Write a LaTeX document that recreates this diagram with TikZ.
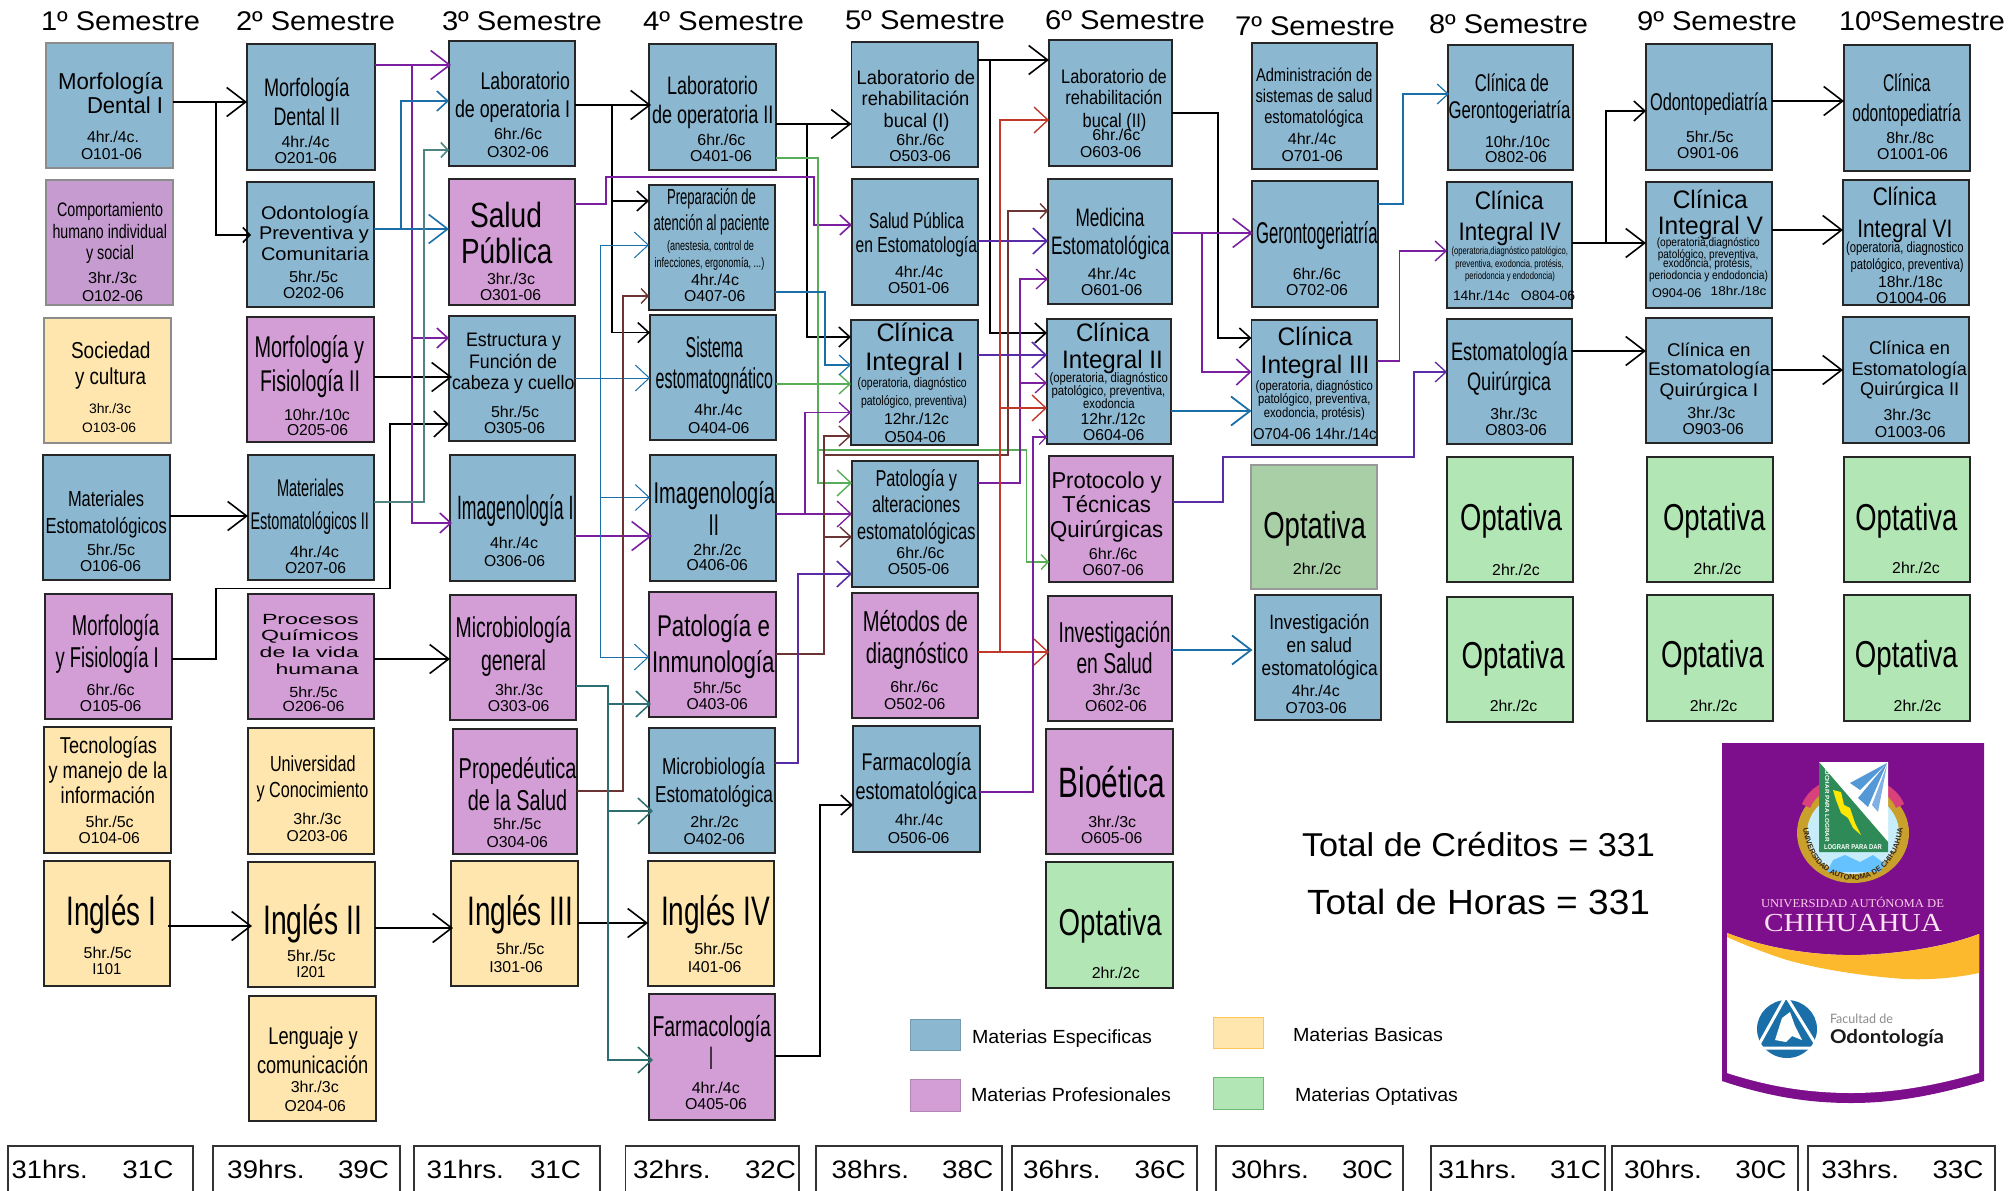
\documentclass[tikz,border=0pt]{standalone}
\usepackage{fontspec}
\usepackage{graphicx}
\setmainfont{Liberation Sans}
\newfontfamily\serifF{Liberation Serif}
\newfontfamily\latoF{Lato}
\usetikzlibrary{arrows.meta,decorations.text}
\definecolor{cB}{HTML}{8CB7D0}
\definecolor{cP}{HTML}{D39DD6}
\definecolor{cPd}{HTML}{C59BD0}
\definecolor{cY}{HTML}{FEE6AE}
\definecolor{cG}{HTML}{B3E6B5}
\definecolor{cGd}{HTML}{A9CFA6}
\definecolor{wirP}{HTML}{7A1FA0}
\definecolor{wirB}{HTML}{1B6FA8}
\definecolor{wirT}{HTML}{4F8483}
\definecolor{wirD}{HTML}{2F6E70}
\definecolor{wirR}{HTML}{6B3535}
\definecolor{wirG}{HTML}{58AE58}
\definecolor{wirI}{HTML}{5A2BA6}
\definecolor{wirO}{HTML}{C0392B}
\definecolor{logoP}{HTML}{7D0F8C}
\definecolor{logoO}{HTML}{FDB92E}
\tikzset{
  cbox/.style={draw=black!85,line width=1.3pt,inner sep=0pt,outer sep=0pt,anchor=north west},
  fB/.style={fill=cB},fP/.style={fill=cP},fPd/.style={fill=cPd,draw=black!45},
  fY/.style={fill=cY},fG/.style={fill=cG},fGd/.style={fill=cGd,draw=black!40},
  fW/.style={fill=white},graybd/.style={draw=black!45},
  wK/.style={draw=black,line width=1.6pt},
  wP/.style={draw=wirP,line width=1.6pt},
  wB/.style={draw=wirB,line width=1.6pt},
  wT/.style={draw=wirT,line width=1.6pt},
  wD/.style={draw=wirD,line width=1.5pt},
  wR/.style={draw=wirR,line width=1.4pt},
  wG/.style={draw=wirG,line width=1.4pt},
  wI/.style={draw=wirI,line width=1.6pt},
  wO/.style={draw=wirO,line width=1.4pt},
  tB/.style={-{Straight Barb[length=19pt,width=29pt]}},
  tM/.style={-{Straight Barb[length=14pt,width=26pt]}},
  tS/.style={-{Straight Barb[length=11pt,width=20pt]}},
  tX/.style={-{Straight Barb[length=7pt,width=15pt]}},
  txt/.style={inner sep=0pt,outer sep=0pt,anchor=base west}
}
\newcommand\Ln[5]{\vbox to 0pt{\offinterlineskip\kern\dimexpr #3pt-\CurY pt\relax
  \ifdim #4pt>22.5pt\def\VF{1.25}\else\ifdim #4pt>15.5pt\def\VF{1.15}\else\def\VF{1.05}\fi\fi
  \hbox to 0pt{\kern\dimexpr #1pt-\CurX pt\relax\smash{\resizebox{\dimexpr #2pt-#1pt\relax}{\VF\height}{\fontsize{#4}{#4}\selectfont #5}}\hss}\vss}}
\newcommand\Cv[8][]{\def\CurX{#3}\def\CurY{#4}%
  \node[cbox,#7,#1] (#2) at (#3,#4) {\vbox to \dimexpr #6pt-#4pt\relax{\offinterlineskip
    \hrule height 0pt width \dimexpr #5pt-#3pt\relax #8\vss}};}
\newcommand\Tx[7][black]{\node[txt,text=#1] (#2) at (#3,#5) {\resizebox{\dimexpr #4pt-#3pt\relax}{\height}{\fontsize{#6}{#6}\selectfont #7}};}
\begin{document}
\begin{tikzpicture}[x=1pt,y=-1pt]
\useasboundingbox (0,0) rectangle (2011,1191);
% headings
\Tx{h1}{41}{200}{30}{27}{1º Semestre}
\Tx{h2}{236}{395}{30}{27}{2º Semestre}
\Tx{h3}{442}{602}{30}{27}{3º Semestre}
\Tx{h4}{643}{804}{30}{27}{4º Semestre}
\Tx{h5}{845}{1005}{29}{27}{5º Semestre}
\Tx{h6}{1045}{1205}{29}{27}{6º Semestre}
\Tx{h7}{1235}{1395}{35.6}{27}{7º Semestre}
\Tx{h8}{1429}{1588}{33.7}{27}{8º Semestre}
\Tx{h9}{1637}{1797}{30.6}{27}{9º Semestre}
\Tx{h10}{1839}{2005}{30.6}{27}{10ºSemestre}
% column 1
\Cv[graybd]{c101}{46}{43}{173}{168}{fB}{\Ln{58}{163}{89}{20}{Morfología}\Ln{87}{163}{113}{20}{Dental I}\Ln{87}{139}{142}{15}{4hr./4c.}\Ln{81}{142}{159.6}{15}{O101-06}}
\Cv{c102}{46}{180}{173}{305}{fPd}{\Ln{57}{163}{216}{17}{Comportamiento}\Ln{52.5}{167}{238}{17}{humano individual}\Ln{86}{134}{259}{17}{y social}\Ln{88}{137}{283.5}{15}{3hr./3c}\Ln{82}{143}{301.5}{15}{O102-06}}
\Cv[graybd]{c103}{44}{318}{171}{443}{fY}{\Ln{71}{150.5}{358}{20}{Sociedad}\Ln{75}{146}{384}{20}{y cultura}\Ln{89}{131}{413.7}{13}{3hr./3c}\Ln{82}{136}{432.5}{13}{O103-06}}
\Cv{c106}{43}{455}{170}{580}{fB}{\Ln{68}{144}{506}{19}{Materiales}\Ln{45.5}{167}{533}{19}{Estomatológicos}\Ln{87}{135}{555.7}{15}{5hr./5c}\Ln{80}{141}{571}{15}{O106-06}}
\Cv{c105}{45}{594}{172}{719}{fP}{\Ln{72}{159}{635}{23}{Morfología}\Ln{55.6}{158.7}{667.7}{23}{y Fisiología I}\Ln{86.7}{134.7}{695}{15}{6hr./6c}\Ln{80}{141.3}{711.3}{15}{O105-06}}
\Cv{c104}{44}{727}{171}{853}{fY}{\Ln{60}{157}{753.8}{20}{Tecnologías}\Ln{48.5}{167.3}{778.7}{20}{y manejo de la}\Ln{60.7}{155}{803.5}{20}{información}\Ln{85.7}{133.7}{827.7}{15}{5hr./5c}\Ln{78.6}{139.8}{843.3}{15}{O104-06}}
\Cv{i101}{44}{861}{170}{986}{fY}{\Ln{66.3}{156}{925.6}{33}{Inglés I}\Ln{83.7}{131.6}{958}{15}{5hr./5c}\Ln{92.3}{121.4}{974.6}{15}{I101}}
% column 2
\Cv{c201}{247}{44}{375}{170}{fB}{\Ln{264}{349.5}{96.4}{22}{Morfología}\Ln{273.5}{340}{125}{22}{Dental II}\Ln{281.6}{329.6}{147.7}{15}{4hr./4c}\Ln{274.5}{337}{163.4}{15}{O201-06}}
\Cv{c202}{247}{182}{374}{307}{fB}{\Ln{261}{369}{219}{16}{Odontología}\Ln{259}{369}{239}{16}{Preventiva y}\Ln{261}{369}{260}{16}{Comunitaria}\Ln{289}{338}{282.4}{15}{5hr./5c}\Ln{283}{344}{298.5}{15}{O202-06}}
\Cv{c205}{247}{317}{374}{442}{fP}{\Ln{254.6}{364}{357.8}{24}{Morfología y}\Ln{260}{360}{391}{24}{Fisiología II}\Ln{284}{350}{420}{15}{10hr./10c}\Ln{287}{348}{435.5}{15}{O205-06}}
\Cv{c207}{248}{455}{374}{580}{fB}{\Ln{277}{344}{496}{21}{Materiales}\Ln{250.5}{369}{529.6}{21}{Estomatológicos II}\Ln{290}{339}{557.6}{15}{4hr./4c}\Ln{285}{346}{573}{15}{O207-06}}
\Cv{c206}{248}{594}{374}{719}{fP}{\Ln{262}{358.7}{624.4}{14}{Procesos}\Ln{261}{358.7}{640}{14}{Químicos}\Ln{259.7}{358.7}{657}{14}{de la vida}\Ln{275.5}{358.7}{674}{14}{humana}\Ln{289.3}{337.8}{697}{14}{5hr./5c}\Ln{282.7}{344.4}{711.3}{14}{O206-06}}
\Cv{c203}{248}{728}{374}{854}{fY}{\Ln{270}{355.6}{771.8}{19}{Universidad}\Ln{256.6}{368.4}{797.8}{19}{y Conocimiento}\Ln{293.4}{341.3}{824}{15}{3hr./3c}\Ln{286.7}{348}{841}{15}{O203-06}}
\Cv{i201}{248}{862}{375}{987}{fY}{\Ln{263.3}{362.2}{934.4}{33}{Inglés II}\Ln{287.2}{335.7}{961.2}{15}{5hr./5c}\Ln{296.4}{325.5}{977.3}{15}{I201}}
\Cv{c204}{249}{996}{376}{1121}{fY}{\Ln{268.4}{357.7}{1044.6}{21}{Lenguaje y}\Ln{257}{368.4}{1073}{21}{comunicación}\Ln{290.8}{338.8}{1092.5}{15}{3hr./3c}\Ln{284.7}{346}{1111.2}{15}{O204-06}}
% column 3
\Cv{c302}{449}{41}{575}{166}{fB}{\Ln{480.6}{570}{89.5}{21}{Laboratorio}\Ln{455}{570}{117}{21}{de operatoria I}\Ln{494}{542}{139}{15}{6hr./6c}\Ln{487}{549}{157}{15}{O302-06}}
\Cv{c301}{449}{179}{575}{305}{fP}{\Ln{470}{542}{227.7}{28}{Salud}\Ln{461}{552.5}{263.7}{28}{Pública}\Ln{487}{535}{284}{15}{3hr./3c}\Ln{480}{541}{300}{15}{O301-06}}
\Cv{c305}{449}{316}{575}{441}{fB}{\Ln{466}{561}{346}{17}{Estructura y}\Ln{469}{557}{368.5}{17}{Función de}\Ln{452}{574.5}{389}{17}{cabeza y cuello}\Ln{491}{539}{417.5}{15}{5hr./5c}\Ln{484}{545}{433}{15}{O305-06}}
\Cv{c306}{450}{455}{575}{581}{fB}{\Ln{457}{573.5}{519}{27}{Imagenología I}\Ln{490}{538}{548}{15}{4hr./4c}\Ln{484}{545}{566}{15}{O306-06}}
\Cv{c303}{450}{595}{576}{720}{fP}{\Ln{455.6}{571}{637.8}{23}{Microbiología}\Ln{481}{546}{670.7}{23}{general}\Ln{495}{543}{695}{15}{3hr./3c}\Ln{487.8}{549.5}{711.3}{15}{O303-06}}
\Cv{c304}{453}{729}{577}{854}{fP}{\Ln{458.7}{576.5}{778.7}{23}{Propedéutica}\Ln{467.9}{567.3}{810}{23}{de la Salud}\Ln{493.4}{541.3}{829}{15}{5hr./5c}\Ln{486.7}{548}{847}{15}{O304-06}}
\Cv{i301}{451}{861}{578}{986}{fY}{\Ln{467.3}{573}{925.6}{33}{Inglés III}\Ln{496.4}{544.4}{954.3}{15}{5hr./5c}\Ln{489.3}{542.9}{972.3}{15}{I301-06}}
% column 4
\Cv{c401}{649}{44}{776}{170}{fB}{\Ln{667}{758}{94.5}{22}{Laboratorio}\Ln{652}{773.5}{123}{22}{de operatoria II}\Ln{697.4}{745.4}{145.4}{15}{6hr./6c}\Ln{690}{752}{161}{15}{O401-06}}
\Cv{c407}{649}{185}{775}{310}{fB}{\Ln{667}{756}{204.7}{19}{Preparación de}\Ln{653.6}{769.4}{230.8}{19}{atención al paciente}\Ln{667}{754}{250}{13}{(anestesia, control de}\Ln{654.6}{764.3}{267}{13}{infecciones, ergonomía, ...)}\Ln{691}{739}{285.5}{15}{4hr./4c}\Ln{684}{745.4}{301.6}{15}{O407-06}}
\Cv{c404}{650}{315}{776}{440}{fB}{\Ln{685.7}{743}{357}{23}{Sistema}\Ln{655.6}{773}{388.4}{23}{estomatognático}\Ln{694.4}{742.3}{415.6}{15}{4hr./4c}\Ln{688}{749.5}{433}{15}{O404-06}}
\Cv{c406}{650}{455}{776}{581}{fB}{\Ln{653.6}{775}{503}{24}{Imagenología}\Ln{708.7}{719}{535}{24}{II}\Ln{693.4}{741.3}{555}{15}{2hr./2c}\Ln{686.7}{748}{570.6}{15}{O406-06}}
\Cv{c403}{649}{592}{776}{717}{fP}{\Ln{657}{770}{636.7}{24}{Patología e}\Ln{652}{774.5}{672.3}{24}{Inmunología}\Ln{693.4}{741.3}{693.3}{15}{5hr./5c}\Ln{686.7}{748}{709.4}{15}{O403-06}}
\Cv{c402}{649}{728}{775}{853}{fB}{\Ln{662}{765}{774.8}{20}{Microbiología}\Ln{655}{773}{802.4}{20}{Estomatológica}\Ln{690.3}{738.8}{827.3}{15}{2hr./2c}\Ln{683.7}{745}{844.5}{15}{O402-06}}
\Cv{i401}{648}{861}{774}{986}{fY}{\Ln{661}{770}{925.6}{33}{Inglés IV}\Ln{694.4}{743}{954.3}{15}{5hr./5c}\Ln{687.8}{741.3}{972.3}{15}{I401-06}}
\Cv{c405}{649}{994}{775}{1120}{fP}{\Ln{652.5}{771}{1036.6}{23}{Farmacología}\Ln{709}{713}{1069.5}{26}{I}\Ln{691.8}{739.8}{1093}{15}{4hr./4c}\Ln{685}{747}{1109}{15}{O405-06}}
% column 5
\Cv{c503}{851.5}{42}{978}{167}{fB}{\Ln{856.6}{975}{84}{17}{Laboratorio de}\Ln{861.7}{969.4}{105}{17}{rehabilitación}\Ln{883.7}{949.5}{127.4}{17}{bucal (I)}\Ln{896.4}{944.4}{145.4}{15}{6hr./6c}\Ln{889.3}{951}{161}{15}{O503-06}}
\Cv{c501}{852}{179}{978}{305}{fB}{\Ln{869}{964}{228.5}{19}{Salud Pública}\Ln{855.6}{977}{252.6}{19}{en Estomatología}\Ln{895}{943}{277.5}{15}{4hr./4c}\Ln{888}{949.5}{293.5}{15}{O501-06}}
\Cv{c504}{851}{320}{978}{445}{fB}{\Ln{876.5}{953.6}{341.7}{22}{Clínica}\Ln{865.3}{963.8}{370.5}{22}{Integral I}\Ln{857.7}{966.8}{387.7}{13}{(operatoria, diagnóstico}\Ln{861}{966.8}{405.7}{13}{patológico, preventiva)}\Ln{884}{949}{424.4}{15}{12hr./12c}\Ln{884.7}{946}{442.4}{15}{O504-06}}
\Cv{c505}{852}{461}{978}{587}{fB}{\Ln{875.5}{957}{486.8}{20}{Patología y}\Ln{872}{960.2}{512.8}{20}{alteraciones}\Ln{857}{975.5}{539.6}{20}{estomatológicas}\Ln{896.4}{944.4}{558.4}{15}{6hr./6c}\Ln{887.8}{949.5}{574}{15}{O505-06}}
\Cv{c502}{852}{593}{978}{718}{fP}{\Ln{862.8}{967.9}{631}{23}{Métodos de}\Ln{865.8}{968.4}{663.5}{23}{diagnóstico}\Ln{890.3}{938.3}{692.6}{15}{6hr./6c}\Ln{884.2}{945.4}{709.4}{15}{O502-06}}
\Cv{c506}{853}{726}{980}{852}{fB}{\Ln{861.7}{971}{770.6}{21}{Farmacología}\Ln{855.6}{977}{799}{21}{estomatológica}\Ln{895}{943}{825.4}{15}{4hr./4c}\Ln{887.8}{949.5}{843.3}{15}{O506-06}}
% column 6
\Cv{c603}{1049}{40}{1172}{166}{fB}{\Ln{1061.2}{1166.8}{83.4}{17}{Laboratorio de}\Ln{1065.3}{1162.2}{104.9}{17}{rehabilitación}\Ln{1082.7}{1146.4}{127}{17}{bucal (II)}\Ln{1092.3}{1140.3}{140}{15}{6hr./6c}\Ln{1080}{1141.3}{157.3}{15}{O603-06}}
\Cv{c601}{1048}{179}{1172}{304}{fB}{\Ln{1075.5}{1144.4}{226.6}{22}{Medicina}\Ln{1051}{1169.4}{254.5}{22}{Estomatológica}\Ln{1087.8}{1136.2}{279.4}{15}{4hr./4c}\Ln{1081}{1142.3}{295}{15}{O601-06}}
\Cv{c604}{1047}{319}{1171}{444}{fB}{\Ln{1076}{1149.5}{341.8}{22}{Clínica}\Ln{1062.2}{1162.8}{368}{22}{Integral II}\Ln{1049.5}{1167.9}{382.7}{13}{(operatoria, diagnóstico}\Ln{1051.5}{1165.3}{395.3}{13}{patológico, preventiva,}\Ln{1083.2}{1134.7}{408.3}{13}{exodoncia}\Ln{1080.6}{1145.4}{424.4}{15}{12hr./12c}\Ln{1083.2}{1144.4}{440}{15}{O604-06}}
\Cv{c607}{1049}{456}{1173}{582}{fP}{\Ln{1051.5}{1161.7}{488}{20}{Protocolo y}\Ln{1062.2}{1151}{512.8}{20}{Técnicas}\Ln{1050}{1163.3}{537.7}{20}{Quirúrgicas}\Ln{1088.8}{1137.3}{559.5}{15}{6hr./6c}\Ln{1082.7}{1143.9}{575.6}{15}{O607-06}}
\Cv{c602}{1048}{596}{1172}{721}{fP}{\Ln{1058.7}{1170.4}{642.8}{23}{Investigación}\Ln{1076.5}{1152.6}{673.4}{23}{en Salud}\Ln{1092.3}{1140.3}{695.2}{15}{3hr./3c}\Ln{1085.2}{1147}{711.3}{15}{O602-06}}
\Cv{c605}{1046}{729}{1173}{854}{fP}{\Ln{1058.7}{1164.8}{797.8}{34}{Bioética}\Ln{1088.3}{1136.2}{827.3}{15}{3hr./3c}\Ln{1081}{1142.3}{843.3}{15}{O605-06}}
\Cv{o6}{1046}{862}{1173}{988}{fG}{\Ln{1058.7}{1161.7}{935.6}{30}{Optativa}\Ln{1091.8}{1139.8}{978.4}{15}{2hr./2c}}
% column 7
\Cv{c701}{1252}{43}{1377}{169}{fB}{\Ln{1256}{1372.4}{81.5}{16}{Administración de}\Ln{1255.6}{1372.4}{102.2}{16}{sistemas de salud}\Ln{1264.3}{1363.3}{123.2}{16}{estomatológica}\Ln{1287.8}{1336.2}{144.3}{15}{4hr./4c}\Ln{1281.6}{1342.9}{161}{15}{O701-06}}
\Cv{c702}{1252}{181}{1378}{307}{fB}{\Ln{1256}{1377.6}{243.8}{24}{Gerontogeriatría}\Ln{1292.8}{1340.8}{279.4}{15}{6hr./6c}\Ln{1286.2}{1348}{295}{15}{O702-06}}
\Cv{c704}{1251.5}{320}{1377}{445}{fB}{\Ln{1277.6}{1352.6}{345.6}{22}{Clínica}\Ln{1260.7}{1369.4}{373}{22}{Integral III}\Ln{1255.6}{1373}{390.7}{13}{(operatoria, diagnóstico}\Ln{1258}{1370.4}{403.7}{13}{patológico, preventiva,}\Ln{1263.8}{1364.8}{417}{13}{exodoncia, protésis)}\Ln{1253}{1376.5}{439}{15}{O704-06 14hr./14c}}
\Cv{o7}{1251}{465}{1377}{589}{fGd}{\Ln{1263.3}{1365.8}{538.5}{30}{Optativa}\Ln{1292.8}{1341.3}{574}{15}{2hr./2c}}
\Cv{c703}{1255}{595}{1381}{720}{fB}{\Ln{1269.4}{1369.4}{629}{18}{Investigación}\Ln{1286.7}{1352}{652}{18}{en salud}\Ln{1261.7}{1377.6}{675}{18}{estomatológica}\Ln{1291.8}{1339.8}{696.4}{15}{4hr./4c}\Ln{1285.7}{1347}{713.2}{15}{O703-06}}
% column 8
\Cv{c802}{1448}{45}{1573}{170}{fB}{\Ln{1474.8}{1549}{91.8}{21}{Clínica de}\Ln{1448.5}{1570.4}{118.6}{21}{Gerontogeriatría}\Ln{1485}{1550}{147}{15}{10hr./10c}\Ln{1485}{1547}{162.3}{15}{O802-06}}
\Cv{c804}{1447}{182}{1572}{308}{fB}{\Ln{1474.8}{1543.7}{209.3}{22}{Clínica}\Ln{1458.7}{1560.7}{240.3}{22}{Integral IV}\Ln{1451.5}{1568}{254.5}{10}{(operatoria,diagnóstico patológico,}\Ln{1455.3}{1563.6}{267}{10}{preventiva, exodoncia, protésis,}\Ln{1465}{1554.9}{279}{10}{periodoncia y endodoncia)}\Ln{1453}{1509.7}{300.8}{13}{14hr./14c}\Ln{1520.9}{1575.2}{300.8}{13}{O804-06}}
\Cv{c803}{1447}{319}{1572}{444}{fB}{\Ln{1451}{1567.5}{360.5}{22}{Estomatología}\Ln{1467}{1551}{390.4}{22}{Quirúrgica}\Ln{1490.3}{1537.4}{419}{15}{3hr./3c}\Ln{1485.4}{1547}{435}{15}{O803-06}}
\Cv{o8a}{1447}{457}{1573}{582}{fG}{\Ln{1460.2}{1562.1}{530}{30}{Optativa}\Ln{1492.2}{1539.8}{575.2}{15}{2hr./2c}}
\Cv{o8b}{1447}{597}{1573}{722}{fG}{\Ln{1461.7}{1564.6}{668.5}{30}{Optativa}\Ln{1489.8}{1537.4}{711.3}{15}{2hr./2c}}
% column 9
\Cv{c901}{1646}{44}{1772}{170}{fB}{\Ln{1650}{1767.5}{110}{21}{Odontopediatría}\Ln{1686}{1733.5}{142.4}{15}{5hr./5c}\Ln{1677.2}{1738.8}{158}{15}{O901-06}}
\Cv{c904}{1646}{182}{1772}{308}{fB}{\Ln{1672.8}{1747.6}{208.6}{22}{Clínica}\Ln{1657.8}{1763}{234.2}{22}{Integral V}\Ln{1656.8}{1759.7}{246.8}{11.5}{(operatoria,diagnóstico}\Ln{1657.8}{1758.3}{258}{11.5}{patológico, preventiva,}\Ln{1663}{1752.4}{267.5}{11.5}{exodoncia, protésis,}\Ln{1649}{1768}{279}{11.5}{periodoncia y endodoncia)}\Ln{1652}{1701.5}{297}{12}{O904-06}\Ln{1710.7}{1766.5}{295.8}{12}{18hr./18c}}
\Cv{c903}{1646}{318}{1772}{443}{fB}{\Ln{1667}{1750.5}{356}{16}{Clínica en}\Ln{1648}{1770}{375.8}{16}{Estomatología}\Ln{1659.7}{1758.3}{396.9}{16}{Quirúrgica I}\Ln{1687.4}{1735.4}{418.3}{15}{3hr./3c}\Ln{1682.5}{1744}{434.4}{15}{O903-06}}
\Cv{o9a}{1647}{457}{1773}{582}{fG}{\Ln{1663}{1765.5}{530.8}{30}{Optativa}\Ln{1693.7}{1741.3}{574}{15}{2hr./2c}}
\Cv{o9b}{1647}{595}{1773}{721}{fG}{\Ln{1661.2}{1764}{667.7}{30}{Optativa}\Ln{1689.8}{1737.4}{711.3}{15}{2hr./2c}}
% column 10
\Cv{c1001}{1844}{45}{1970}{171}{fB}{\Ln{1883}{1930.6}{91}{21}{Clínica}\Ln{1852.4}{1960.7}{121.7}{21}{odontopediatría}\Ln{1886.4}{1934}{143}{15}{8hr./8c}\Ln{1877.2}{1948}{159.2}{15}{O1001-06}}
\Cv{c1004}{1843}{180}{1969}{305}{fB}{\Ln{1872.8}{1936.4}{205.5}{22}{Clínica}\Ln{1857.3}{1952.4}{237.3}{22}{Integral VI}\Ln{1846}{1963.6}{252.6}{14}{(operatoria, diagnostico}\Ln{1850.5}{1963.6}{269.4}{14}{patológico, preventiva)}\Ln{1878.2}{1942.7}{287.4}{15}{18hr./18c}\Ln{1876.2}{1946.6}{303}{15}{O1004-06}}
\Cv{c1003}{1843}{317}{1969}{443}{fB}{\Ln{1869}{1950}{354}{16}{Clínica en}\Ln{1851.5}{1967}{375}{16}{Estomatología}\Ln{1860.2}{1959.2}{395}{16}{Quirúrgica II}\Ln{1883.5}{1931}{420.2}{15}{3hr./3c}\Ln{1874.8}{1945.6}{437}{15}{O1003-06}}
\Cv{o10a}{1844}{457}{1970}{582}{fG}{\Ln{1855.3}{1957.3}{530}{30}{Optativa}\Ln{1892.2}{1939.8}{573}{15}{2hr./2c}}
\Cv{o10b}{1844}{595}{1970}{721}{fG}{\Ln{1854.9}{1957.8}{667.7}{30}{Optativa}\Ln{1893.7}{1941.3}{711.3}{15}{2hr./2c}}
% totals per semester
\Cv[draw=black!80]{s1}{8}{1146}{193}{1196}{fW}{\Ln{11.7}{87.8}{1178}{22}{31hrs.}\Ln{122.4}{173.5}{1178}{22}{31C}}
\Cv[draw=black!80]{s2}{213}{1146}{400}{1196}{fW}{\Ln{227}{304.6}{1178}{22}{39hrs.}\Ln{338}{389}{1178}{22}{39C}}
\Cv[draw=black!80]{s3}{414}{1146}{600}{1196}{fW}{\Ln{426.5}{504}{1178}{22}{31hrs.}\Ln{530}{581}{1178}{22}{31C}}
\Cv[draw=black!80]{s4}{625.5}{1146}{799}{1196}{fW}{\Ln{633}{710.7}{1178}{22}{32hrs.}\Ln{745}{796}{1178}{22}{32C}}
\Cv[draw=black!80]{s5}{816}{1146}{1002}{1196}{fW}{\Ln{831.6}{909}{1178}{22}{38hrs.}\Ln{942}{993.4}{1178}{22}{38C}}
\Cv[draw=black!80]{s6}{1012}{1146}{1197}{1196}{fW}{\Ln{1023}{1100.5}{1178}{22}{36hrs.}\Ln{1134.7}{1185.7}{1178}{22}{36C}}
\Cv[draw=black!80]{s7}{1216}{1146}{1403}{1196}{fW}{\Ln{1231}{1309}{1178}{22}{30hrs.}\Ln{1342}{1393}{1178}{22}{30C}}
\Cv[draw=black!80]{s8}{1431}{1146}{1605}{1196}{fW}{\Ln{1438}{1517}{1178}{22}{31hrs.}\Ln{1550}{1601}{1178}{22}{31C}}
\Cv[draw=black!80]{s9}{1612}{1146}{1798}{1196}{fW}{\Ln{1624}{1702}{1178}{22}{30hrs.}\Ln{1735.4}{1786.4}{1178}{22}{30C}}
\Cv[draw=black!80]{s10}{1808}{1146}{1995}{1196}{fW}{\Ln{1821.4}{1899}{1178}{22}{33hrs.}\Ln{1932.5}{1983.5}{1178}{22}{33C}}
% black connectors
\draw[wK,tB] (c101.east|-0,102) -- (c201.west|-0,102);
\draw[wK,tX] (c101.east|-0,102) -- (216,102) -- (216,235) -- (251,235);
\draw[wK,tB] (c106.east|-0,516) -- (c207.west|-0,516);
\draw[wK,tM] (c105.east|-0,659) -- (216,659) -- (216,588.6) -- (390,588.6) -- (390,424) -- (c305.west|-0,424);
\draw[wK,tB] (c205.east|-0,377) -- (452,377);
\draw[wK,tB] (c302.east|-0,105) -- (651,105);
\draw[wK,tS] (c302.east|-0,105) -- (612,105) -- (612,201) -- (c407.west|-0,201);
\draw[wK,tS] (c302.east|-0,105) -- (612,105) -- (612,332.6) -- (c404.west|-0,332.6);
\draw[wK,tB] (c401.east|-0,124) -- (c503.west|-0,124);
\draw[wK,tS] (c401.east|-0,124) -- (807,124) -- (807,337) -- (c504.west|-0,337);
\draw[wK,tB] (c503.east|-0,60) -- (c603.west|-0,60);
\draw[wK,tS] (c503.east|-0,60) -- (990,60) -- (990,333) -- (c604.west|-0,333);
\draw[wK,tS] (c603.east|-0,113) -- (1218,113) -- (1218,338) -- (c704.west|-0,338);
\draw[wK,tB] (c206.east|-0,659) -- (c303.west|-0,659);
\draw[wK,tB] (168,926) -- (252,926);
\draw[wK,tB] (i201.east|-0,928) -- (453,928);
\draw[wK,tB] (i301.east|-0,923) -- (i401.west|-0,923);
\draw[wK,tS] (c405.east|-0,1056) -- (820,1056) -- (820,805) -- (c506.west|-0,805);
\draw[wK,tB] (c804.east|-0,243) -- (c904.west|-0,243);
\draw[wK,tS] (c804.east|-0,243) -- (1606,243) -- (1606,111) -- (c901.west|-0,111);
\draw[wK,tB] (c901.east|-0,101) -- (c1001.west|-0,101);
\draw[wK,tB] (c904.east|-0,230) -- (c1004.west|-0,230);
\draw[wK,tB] (c803.east|-0,351) -- (c903.west|-0,351);
\draw[wK,tB] (c903.east|-0,370) -- (c1003.west|-0,370);
% coloured connectors
\draw[wP,tB] (c201.east|-0,65) -- (451,65);
\draw[wP,tS] (c201.east|-0,65) -- (412,65) -- (412,338) -- (c305.west|-0,338);
\draw[wP,tS] (c201.east|-0,65) -- (412,65) -- (412,523) -- (452,523);
\draw[wB,tB] (c202.east|-0,229) -- (c301.west|-0,229);
\draw[wB,tS] (c202.east|-0,229) -- (401,229) -- (401,101) -- (c302.west|-0,101);
\draw[wT,tX] (c207.east|-0,502) -- (424,502) -- (424,150) -- (c302.west|-0,150);
\draw[wP,tS] (c301.east|-0,204) -- (606,204) -- (606,177) -- (814,177) -- (814,225) -- (c501.west|-0,225);
\draw[wP,tB] (c306.east|-0,536) -- (652,536);
\draw[wB,line width=1pt,tM] (c305.east|-0,378) -- (c404.west|-0,378);
\draw[wB,line width=1pt,tM] (c305.east|-0,378) -- (600,378) -- (600,245) -- (c407.west|-0,245);
\draw[wB,line width=1pt,tM] (c305.east|-0,378) -- (600,378) -- (600,497.5) -- (c406.west|-0,497.5);
\draw[wB,line width=1pt,tM] (c305.east|-0,378) -- (600,378) -- (600,657) -- (c403.west|-0,657);
\draw[wR,tX] (c304.east|-0,791) -- (623,791) -- (623,296) -- (c407.west|-0,296);
\draw[wD,tM] (c303.east|-0,686) -- (608,686) -- (608,704) -- (651,704);
\draw[wD,tM] (c303.east|-0,686) -- (608,686) -- (608,811) -- (653,811);
\draw[wD,tM] (c303.east|-0,686) -- (608,686) -- (608,1060) -- (653,1060);
\draw[wG,tM] (c401.east|-0,158) -- (818,158) -- (818,483) -- (c505.west|-0,483);
\draw[wG,tX] (c401.east|-0,158) -- (818,158) -- (818,450) -- (1026.5,450) -- (1026.5,562) -- (c607.west|-0,562);
\draw[wG,tS] (c404.east|-0,384) -- (c504.west|-0,384);
\draw[wB,line width=1.2pt,tS] (c407.east|-0,292) -- (825,292) -- (825,365) -- (c504.west|-0,365);
\draw[wP,line width=1.3pt,tM] (c406.east|-0,514) -- (c505.west|-0,514);
\draw[wP,line width=1.3pt,tS] (c406.east|-0,514) -- (805,514) -- (805,412.5) -- (c504.west|-0,412.5);
\draw[wR,tS] (c403.east|-0,654) -- (824,654) -- (824,436) -- (c504.west|-0,436);
\draw[wR,tS] (c403.east|-0,654) -- (824,654) -- (824,537) -- (c505.west|-0,537);
\draw[wR,tX] (c403.east|-0,654) -- (824,654) -- (824,455) -- (1008,455) -- (1008,211) -- (c601.west|-0,211);
\draw[wI,tM] (c402.east|-0,763) -- (798,763) -- (798,574) -- (c505.west|-0,574);
\draw[wI,tM] (c501.east|-0,241) -- (c601.west|-0,241);
\draw[wI,tM] (c504.east|-0,355) -- (c604.west|-0,355);
\draw[wP,line width=1.3pt,tS] (c505.east|-0,483) -- (1020,483) -- (1020,279) -- (c601.west|-0,279);
\draw[wP,line width=1.3pt,tS] (c505.east|-0,483) -- (1020,483) -- (1020,383) -- (c604.west|-0,383);
\draw[wO,tM] (c502.east|-0,652) -- (1049,652);
\draw[wO,tM] (c502.east|-0,652) -- (1000,652) -- (1000,120) -- (c603.west|-0,120);
\draw[wO,tM] (c502.east|-0,652) -- (1000,652) -- (1000,408) -- (c604.west|-0,408);
\draw[wP,line width=1.2pt,tX] (c506.east|-0,792) -- (1033,792) -- (1033,437) -- (c604.west|-0,437);
\draw[wP,tB] (c601.east|-0,233) -- (1253,233);
\draw[wP,tM] (c601.east|-0,233) -- (1202,233) -- (1202,372) -- (c704.west|-0,372);
\draw[wB,line width=1.8pt,tB] (c604.east|-0,411) -- (c704.west|-0,411);
\draw[wB,line width=1.8pt,tB] (c602.east|-0,650) -- (1252.5,650);
\draw[wI,line width=1.3pt,tS] (c607.east|-0,502) -- (1223,502) -- (1223,457) -- (1414,457) -- (1414,372) -- (c803.west|-0,372);
\draw[wP,line width=1.4pt,tS] (c704.east|-0,361) -- (1399.5,361) -- (1399.5,251) -- (c804.west|-0,251);
\draw[wB,line width=1.2pt,tS] (c702.east|-0,204) -- (1403,204) -- (1403,94) -- (1449,94);
% totals
\Tx{tc}{1302}{1655}{856}{33}{Total de Créditos = 331}
\Tx{th}{1307}{1650}{914.5}{35}{Total de Horas = 331}
% legend
\Cv[draw=cB!85!black,line width=1pt]{l1}{910}{1019}{960}{1050}{fB}{}
\Cv[draw=cP!85!black,line width=1pt]{l2}{910}{1079}{960}{1111}{fP}{}
\Cv[draw=logoO!80,line width=1pt]{l3}{1213}{1017}{1263}{1048}{fY}{}
\Cv[draw=wirG!85,line width=1pt]{l4}{1213}{1077}{1263}{1109}{fG}{}
\Tx{lt1}{972}{1152}{1043.5}{19}{Materias Especificas}
\Tx{lt2}{971}{1171}{1101}{19}{Materias Profesionales}
\Tx{lt3}{1293}{1443}{1041.6}{19}{Materias Basicas}
\Tx{lt4}{1295}{1458}{1101}{19}{Materias Optativas}
% logo
\fill[logoP] (1722,743) -- (1984,743) -- (1984,1081) .. controls (1930,1097) and (1890,1103) .. (1851,1103) .. controls (1810,1103) and (1770,1097) .. (1722,1081) -- cycle;
\fill[white] (1727,933) .. controls (1770,950) and (1820,956) .. (1861,955) .. controls (1910,953) and (1950,945) .. (1979,934) -- (1979,1073) .. controls (1930,1087) and (1890,1093) .. (1851,1093) .. controls (1810,1093) and (1770,1087) .. (1727,1073) -- cycle;
\fill[logoO] (1727,933) .. controls (1770,950) and (1820,956) .. (1861,955) .. controls (1910,953) and (1950,945) .. (1979,934) -- (1979,973) .. controls (1955,978) and (1930,980) .. (1905,979) .. controls (1860,976) and (1815,968) .. (1787,960) .. controls (1765,953) and (1745,945) .. (1727,937) -- cycle;
\definecolor{ringC}{HTML}{C9A02C}
\fill[ringC] (1853,833) ellipse [x radius=56pt,y radius=50pt];
\draw[line width=9pt,color=magenta!45!purple!85] (1806,806) .. controls (1820,772) and (1886,772) .. (1900,806);
\fill[cyan!22!white] (1853,833) ellipse [x radius=46pt,y radius=41pt];
\fill[blue!40!cyan!60!white] (1827,872) -- (1833,860) -- (1845,855) -- (1860,862) -- (1873,855) -- (1885,864) -- (1880,872) -- cycle;
\fill[green!30!lime!60!white] (1819,762) rectangle (1888,852);
\fill[white] (1819,762) -- (1888,762) -- (1888,842) -- cycle;
\fill[cyan!60!blue!70] (1887,763) -- (1850,783) -- (1860,790) -- cycle;
\fill[cyan!60!blue!70] (1887,763) -- (1858,798) -- (1868,807) -- cycle;
\fill[cyan!60!blue!50] (1887,765) -- (1872,805) -- (1878,812) -- cycle;
\definecolor{embG}{HTML}{2E8B57}
\fill[embG] (1819,762) -- (1888,842) -- (1888,852) -- (1819,852) -- cycle;
\fill[yellow!90!orange] (1833,790) -- (1841,792) -- (1844,805) -- (1850,808) -- (1855,823) -- (1861,835) -- (1853,828) -- (1848,818) -- (1841,813) -- (1836,800) -- cycle;
\node[txt,text=white,font=\bfseries] (lgb) at (1824,849) {\resizebox{58pt}{\height}{\fontsize{7}{7}\selectfont LOGRAR PARA DAR}};
\node[txt,text=white,font=\bfseries,rotate=-90] (lgc) at (1825,767) {\resizebox{75pt}{\height}{\fontsize{6}{6}\selectfont LUCHAR PARA LOGRAR}};
\path[decorate,decoration={text along path,text align=center,text color=black!70!brown,text={|\fontsize{7.5}{7.5}\selectfont\bfseries|UNIVERSIDAD AUTONOMA DE CHIHUAHUA}}] (1803,808) .. controls (1799,855) and (1825,880) .. (1853,880) .. controls (1881,880) and (1907,855) .. (1903,808);
\node[txt,text=magenta!20!white,font=\serifF] (lu) at (1761,907) {\resizebox{183pt}{\height}{\fontsize{12}{12}\selectfont UNIVERSIDAD AUTÓNOMA DE}};
\node[txt,text=magenta!12!white,font=\serifF] (lch) at (1764,931) {\resizebox{178pt}{\height}{\fontsize{26}{26}\selectfont CHIHUAHUA}};
\fill[wirB] (1787,1029) ellipse [x radius=30pt,y radius=29pt];
\draw[white,line width=3pt,line join=round] (1786,996) -- (1757,1048) -- (1818,1048) -- cycle;
\fill[white] (1775,1040) -- (1782,1018) -- (1790,1012) -- (1795,1026) -- (1802,1040) -- (1792,1036) -- (1786,1042) -- cycle;
\node[txt,text=black!45,font=\latoF] (lf) at (1830,1023) {\resizebox{63pt}{\height}{\fontsize{13}{13}\selectfont Facultad de}};
\node[txt,text=black!90,font=\latoF\bfseries] (lo) at (1830,1043) {\resizebox{114pt}{\height}{\fontsize{19}{19}\selectfont Odontología}};
\end{tikzpicture}
\end{document}
